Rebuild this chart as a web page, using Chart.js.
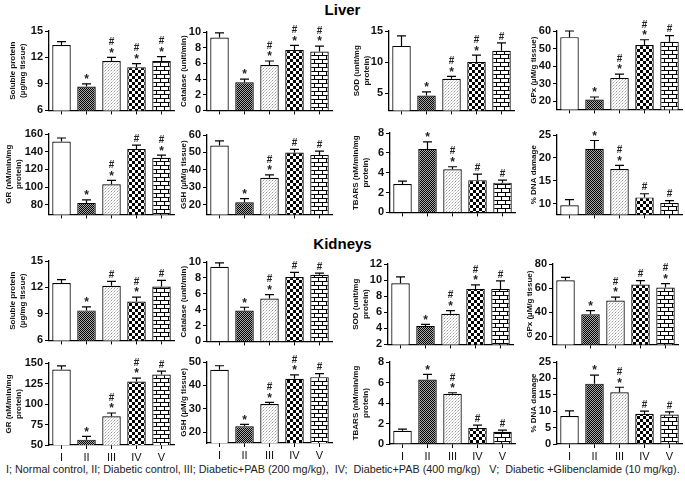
<!DOCTYPE html>
<html lang="en">
<head>
<meta charset="UTF-8">
<title>Liver and kidney bar charts</title>
<script src="https://cdn.jsdelivr.net/npm/chart.js"></script>
<style>
  body { margin: 0; background: #fff; }
  #wrap { position: relative; width: 685px; height: 484px; overflow: hidden; font-family: "Liberation Sans", Arial, sans-serif; }
  canvas { position: absolute; }
  .head { position: absolute; width: 685px; text-align: center; font-weight: bold; font-size: 15px; }
  #foot { position: absolute; left: 6px; top: 463px; font-size: 11px; white-space: pre; color: #222; transform-origin: 0 0; }
</style>
</head>
<body>
<div id="wrap">
  <div class="head" style="top:1px">Liver</div>
  <div class="head" style="top:235px">Kidneys</div>
  <div id="foot">I; Normal control, II; Diabetic control, III; Diabetic+PAB (200 mg/kg),  IV;  Diabetic+PAB (400 mg/kg)   V;  Diabetic +Glibenclamide (10 mg/kg).</div>
</div>
<script>
// groups
const groups = ['I', 'II', 'III', 'IV', 'V'];

// liver
const livProtein = [13.4, 8.7, 11.6, 10.9, 11.6];
const livProteinErr = [0.4, 0.3, 0.4, 0.4, 0.5];
const livProteinSig = ['', '*', '*#', '*#', '*#'];
const livProteinTicks = [6, 9, 12, 15];

const livCatalase = [9.3, 3.6, 5.8, 7.7, 7.5];
const livCatalaseErr = [0.6, 0.4, 0.5, 0.6, 0.7];
const livCatalaseSig = ['', '*', '*#', '*#', '*#'];
const livCatalaseTicks = [0, 2, 4, 6, 8, 10];

const livSod = [12.6, 4.6, 7.3, 10.0, 11.8];
const livSodErr = [1.6, 0.6, 0.4, 1.1, 1.3];
const livSodSig = ['', '*', '*#', '*#', '#'];
const livSodTicks = [5, 10, 15];

const livGpx = [56.5, 20.8, 33.2, 52.0, 53.8];
const livGpxErr = [3.5, 1.5, 2.2, 3.0, 3.6];
const livGpxSig = ['', '*', '*#', '*#', '#'];
const livGpxTicks = [20, 30, 40, 50, 60];

const livGr = [151.5, 82.0, 103.0, 143.0, 133.0];
const livGrErr = [4.0, 3.5, 4.5, 4.5, 3.0];
const livGrSig = ['', '*', '*#', '#', '*#'];
const livGrTicks = [80, 100, 120, 140, 160];

const livGsh = [54.0, 21.5, 35.5, 50.0, 48.6];
const livGshErr = [2.6, 2.0, 1.6, 1.8, 2.2];
const livGshSig = ['', '*', '*#', '#', '#'];
const livGshTicks = [20, 30, 40, 50, 60];

const livTbars = [2.85, 6.4, 4.35, 3.25, 3.0];
const livTbarsErr = [0.3, 0.7, 0.25, 0.6, 0.25];
const livTbarsSig = ['', '*', '*#', '#', '#'];
const livTbarsTicks = [0, 2, 4, 6, 8];

const livDna = [9.7, 22.0, 17.6, 11.4, 10.2];
const livDnaErr = [1.2, 1.8, 0.8, 0.8, 0.5];
const livDnaSig = ['', '*', '*#', '#', '#'];
const livDnaTicks = [10, 15, 20, 25];

// kidneys
const kidProtein = [12.5, 9.4, 12.2, 10.4, 12.1];
const kidProteinErr = [0.4, 0.4, 0.5, 0.5, 0.7];
const kidProteinSig = ['', '*', '#', '*#', '#'];
const kidProteinTicks = [6, 9, 12, 15];

const kidCatalase = [9.4, 3.9, 5.4, 8.1, 8.4];
const kidCatalaseErr = [0.5, 0.4, 0.5, 0.6, 0.2];
const kidCatalaseSig = ['', '*', '*#', '#', '#'];
const kidCatalaseTicks = [0, 2, 4, 6, 8, 10];

const kidSod = [9.6, 4.3, 5.8, 8.9, 8.9];
const kidSodErr = [0.8, 0.2, 0.4, 0.5, 1.0];
const kidSodSig = ['', '*', '*#', '*#', '#'];
const kidSodTicks = [2, 4, 6, 8, 10, 12];

const kidGpx = [66.5, 38.5, 49.8, 63.0, 60.5];
const kidGpxErr = [2.5, 3.0, 2.8, 3.3, 3.3];
const kidGpxSig = ['', '*', '*#', '#', '*#'];
const kidGpxTicks = [20, 40, 60, 80];

const kidGr = [142.0, 56.5, 85.0, 127.5, 136.0];
const kidGrErr = [4.5, 4.0, 4.0, 4.0, 4.0];
const kidGrSig = ['', '*', '*#', '*#', '#'];
const kidGrTicks = [50, 75, 100, 125, 150];

const kidGsh = [46.7, 22.5, 32.0, 42.8, 43.5];
const kidGshErr = [1.7, 0.8, 0.7, 1.7, 1.5];
const kidGshSig = ['', '*', '*#', '*#', '#'];
const kidGshTicks = [20, 30, 40, 50];

const kidTbars = [1.3, 6.3, 4.9, 1.55, 1.2];
const kidTbarsErr = [0.15, 0.5, 0.1, 0.3, 0.15];
const kidTbarsSig = ['', '*', '*#', '#', '#'];
const kidTbarsTicks = [0, 2, 4, 6, 8];

const kidDna = [8.5, 18.4, 15.8, 9.2, 9.0];
const kidDnaErr = [1.6, 2.6, 1.5, 0.8, 0.8];
const kidDnaSig = ['', '*', '*#', '#', '#'];
const kidDnaTicks = [0, 5, 10, 15, 20, 25];

// fill patterns for the five groups
function tile(w, h, draw) {
    const c = document.createElement('canvas');
    c.width = w; c.height = h;
    const g = c.getContext('2d');
    g.fillStyle = '#fff';
    g.fillRect(0, 0, w, h);
    draw(g);
    return g.createPattern(c, 'repeat');
}
const fills = [
    '#ffffff',
    tile(2, 2, g => { g.fillStyle = '#000'; g.fillRect(0, 0, 1, 1); g.fillRect(1, 1, 1, 1); g.fillStyle = '#a8a8a8'; g.fillRect(1, 0, 1, 1); g.fillRect(0, 1, 1, 1); }),
    tile(3, 3, g => { g.fillStyle = '#9a9a9a'; g.fillRect(0, 0, 1, 1); g.fillStyle = '#cfcfcf'; g.fillRect(1, 2, 1, 1); g.fillRect(2, 1, 1, 1); }),
    tile(6, 6, g => { g.fillStyle = '#000'; g.fillRect(0, 0, 3, 3); g.fillRect(3, 3, 3, 3); }),
    tile(8, 8, g => { g.fillStyle = '#000'; g.fillRect(0, 3, 8, 1); g.fillRect(0, 7, 8, 1); g.fillRect(1, 0, 1, 3); g.fillRect(5, 4, 1, 3); })
];

// error bars and significance marks
const marks = {
    id: 'marks',
    afterDatasetsDraw(chart) {
        const ctx = chart.ctx;
        const ys = chart.scales.y;
        const meta = chart.getDatasetMeta(0);
        const errs = chart.options.plugins.marks.err;
        const sigs = chart.options.plugins.marks.sig;
        ctx.save();
        ctx.strokeStyle = '#000';
        ctx.lineWidth = 1.2;
        ctx.fillStyle = '#222';
        ctx.textAlign = 'center';
        ctx.textBaseline = 'middle';
        meta.data.forEach((bar, i) => {
            const v = chart.data.datasets[0].data[i];
            const top = ys.getPixelForValue(v + errs[i]);
            ctx.beginPath();
            ctx.moveTo(bar.x, bar.y);
            ctx.lineTo(bar.x, top);
            ctx.moveTo(bar.x - 4.5, top);
            ctx.lineTo(bar.x + 4.5, top);
            ctx.stroke();
            let y = top - 6;
            if (sigs[i].includes('*')) {
                ctx.font = 'bold 12px "Liberation Sans"';
                ctx.fillText('*', bar.x, y + 2);
                y -= 9;
            }
            if (sigs[i].includes('#')) {
                ctx.font = 'bold 10px "Liberation Sans"';
                ctx.fillText('#', bar.x, y);
            }
        });
        ctx.restore();
    }
};

const YW = 46, PT = 12;

function panel(id, axisX, topY, bottomY, title, tpad, vals, errs, sigs, tickVals, min, max, labels) {
    const plotW = 125;
    const XH = labels ? 22 : 6;
    const c = document.createElement('canvas');
    c.id = id;
    const w = YW + plotW + 2;
    const h = PT + (bottomY - topY) + XH;
    c.width = w; c.height = h;
    c.style.left = (axisX - YW) + 'px';
    c.style.top = (topY - PT) + 'px';
    c.style.width = w + 'px';
    c.style.height = h + 'px';
    document.getElementById('wrap').appendChild(c);

    new Chart(c.getContext('2d'), {
        type: 'bar',
        data: {
            labels: groups,
            datasets: [{
                data: vals,
                backgroundColor: fills,
                borderColor: '#000',
                borderWidth: 1.2,
                barPercentage: 0.74,
                categoryPercentage: 1
            }]
        },
        options: {
            responsive: false,
            animation: false,
            devicePixelRatio: 1,
            layout: { padding: { top: PT, right: 2, left: 0, bottom: 0 } },
            plugins: {
                legend: { display: false },
                tooltip: { enabled: false },
                marks: { err: errs, sig: sigs }
            },
            scales: {
                x: {
                    afterFit: s => { s.height = XH; },
                    border: { color: '#000', width: 1.3 },
                    grid: { drawOnChartArea: false, drawTicks: true, tickLength: 4, offset: false, color: '#000' },
                    ticks: {
                        display: !!labels,
                        color: '#111',
                        padding: 2,
                        font: { family: 'Liberation Sans', size: 11 }
                    }
                },
                y: {
                    min: min,
                    max: max,
                    afterFit: s => { s.width = YW; },
                    afterBuildTicks: s => { s.ticks = tickVals.map(v => ({ value: v })); },
                    border: { color: '#000', width: 1.3 },
                    grid: { drawOnChartArea: false, drawTicks: true, tickLength: 4, color: '#000' },
                    ticks: {
                        color: '#111',
                        padding: 2,
                        font: { family: 'Liberation Sans', size: 11, weight: 'bold' }
                    },
                    title: {
                        display: true,
                        text: title,
                        color: '#111',
                        padding: { top: tpad, bottom: 0 },
                        font: { family: 'Liberation Sans', size: 8, weight: 'bold', lineHeight: 1.35 }
                    }
                }
            }
        },
        plugins: [marks]
    });
}

// liver, row 1
panel('c1', 49, 31, 113, ['Soluble protein', '(µg/mg tissue)'], 4, livProtein, livProteinErr, livProteinSig, livProteinTicks, 6, 15);
panel('c2', 207, 32, 113, ['Catalase (unit/min)'], 17, livCatalase, livCatalaseErr, livCatalaseSig, livCatalaseTicks, 0, 10);
panel('c3', 389, 31, 113, ['SOD (unit/mg', 'protein)'], 8, livSod, livSodErr, livSodSig, livSodTicks, 2.2, 15);
panel('c4', 557, 31, 112, ['GPx (µM/g tissue)'], 17, livGpx, livGpxErr, livGpxSig, livGpxTicks, 15.2, 60);
// liver, row 2
panel('c5', 49, 134, 217, ['GR (nM/min/mg', 'protein)'], 0, livGr, livGrErr, livGrSig, livGrTicks, 69, 160);
panel('c6', 207, 135, 217, ['GSH (µM/g tissue)'], 17, livGsh, livGshErr, livGshSig, livGshTicks, 14.5, 60);
panel('c7', 390, 133, 215, ['TBARS (nM/min/mg', 'protein)'], 6, livTbars, livTbarsErr, livTbarsSig, livTbarsTicks, 0, 8);
panel('c8', 557, 135, 217, ['% DNA damage'], 17, livDna, livDnaErr, livDnaSig, livDnaTicks, 7.7, 25);
// kidneys, row 3
panel('c9', 49, 261, 343, ['Soluble protein', '(µg/mg tissue)'], 4, kidProtein, kidProteinErr, kidProteinSig, kidProteinTicks, 6, 15);
panel('c10', 207, 262, 344, ['Catalase (unit/min)'], 17, kidCatalase, kidCatalaseErr, kidCatalaseSig, kidCatalaseTicks, 0, 10);
panel('c11', 388, 264, 347, ['SOD (unit/mg', 'protein)'], 8, kidSod, kidSodErr, kidSodSig, kidSodTicks, 2, 12);
panel('c12', 553, 264, 347, ['GPx (µM/g tissue)'], 17, kidGpx, kidGpxErr, kidGpxSig, kidGpxTicks, 13.6, 80);
// kidneys, row 4
panel('c13', 49, 363, 445, ['GR (nM/min/mg', 'protein)'], 0, kidGr, kidGrErr, kidGrSig, kidGrTicks, 50, 150, true);
panel('c14', 207, 362, 443, ['GSH (µM/g tissue)'], 17, kidGsh, kidGshErr, kidGshSig, kidGshTicks, 15.3, 50, true);
panel('c15', 390, 362, 444, ['TBARS (nM/min/mg', 'protein)'], 6, kidTbars, kidTbarsErr, kidTbarsSig, kidTbarsTicks, 0, 8, true);
panel('c16', 557, 362, 444, ['% DNA damage'], 17, kidDna, kidDnaErr, kidDnaSig, kidDnaTicks, 0, 25, true);

// squeeze the footer line to the width it has in the picture
const foot = document.getElementById('foot');
foot.style.transform = 'scaleX(' + (674 / foot.offsetWidth) + ')';
</script>
</body>
</html>
